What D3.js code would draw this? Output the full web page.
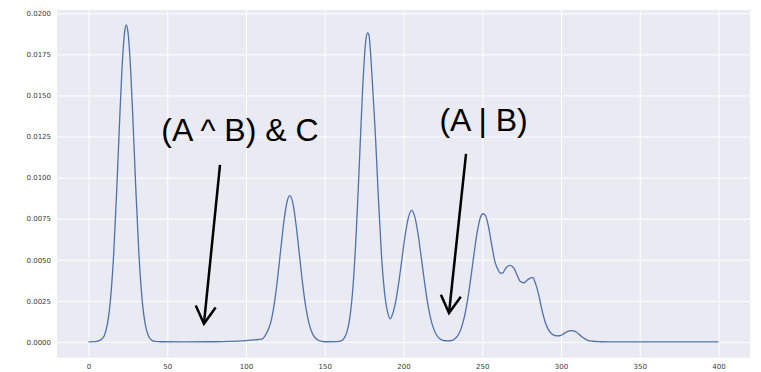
<!DOCTYPE html>
<html>
<head>
<meta charset="utf-8">
<script src="https://cdn.jsdelivr.net/npm/d3@7"></script>
<style>
  body { margin: 0; background: #fff; }
  svg { display: block; }
</style>
</head>
<body>
<script>
// density curve
let xs = [0, 4, 6, 8, 10, 12, 14, 16, 18, 20, 22, 23, 24, 25, 26, 28, 30, 32, 34, 36, 38, 40, 42, 46, 60, 80, 90, 95,
  100, 105, 110, 112, 114, 116, 118, 120, 122, 124, 126, 127.8, 130, 132, 134, 136, 138, 140, 142, 144, 146, 148, 152, 158,
  160, 162, 164, 166, 168, 170, 172, 174, 176, 177.2, 178, 180, 182, 184, 186, 188, 190, 191.5, 193, 195, 197, 199,
  201, 203, 205.2, 207, 209, 211, 213, 215, 217, 219, 221, 223, 225, 228, 231, 233, 235, 237, 239, 241, 243, 245, 247, 249,
  250.4, 252, 254, 256, 258, 260, 261.5, 263, 265, 267.5, 270, 272, 274, 276.5, 279, 282, 284, 286, 288, 290, 292, 294, 296, 297.5,
  300, 302, 304, 306.5, 309, 311, 313, 315, 317, 320, 325, 330, 400];
let ys = [0, 0.00002, 0.00005, 0.00015, 0.00038, 0.00108, 0.00262, 0.00537, 0.0094, 0.0140, 0.0178, 0.0189, 0.0193, 0.0189, 0.0178, 0.0140, 0.0094, 0.00537, 0.00262, 0.00108, 0.00038, 0.00012, 0.00004, 0.00001, 0, 0.00001, 0.00003, 0.00005,
  0.00008, 0.00012, 0.00017, 0.00036, 0.00072, 0.0013, 0.00235, 0.00383, 0.00558, 0.00728, 0.0085, 0.0089, 0.00833, 0.00697, 0.00522, 0.0035, 0.0021, 0.00113, 0.00054, 0.00024, 0.0001, 0.00004, 0.00001, 0.00002,
  0.00005, 0.00019, 0.00058, 0.00152, 0.00345, 0.00665, 0.0109, 0.0153, 0.0183, 0.0188, 0.0187, 0.0162, 0.0129, 0.0089, 0.0053, 0.00298, 0.00178, 0.0014, 0.00168, 0.00244, 0.00362, 0.00505,
  0.00647, 0.00752, 0.0080, 0.00767, 0.00672, 0.00535, 0.00389, 0.00256, 0.00153, 0.00084, 0.00042, 0.00019, 0.0001, 0.00007, 0.0001, 0.00022, 0.00047, 0.00093, 0.00168, 0.00274, 0.00408, 0.00552, 0.0068, 0.00762,
  0.0078, 0.0077, 0.0070, 0.0059, 0.0049, 0.0044, 0.00418, 0.0042, 0.0045, 0.00466, 0.0045, 0.0041, 0.0037, 0.0036, 0.0038, 0.00393, 0.0035, 0.0028, 0.0019, 0.0012, 0.00075, 0.0005, 0.0004, 0.00037,
  0.0004, 0.00052, 0.00063, 0.00069, 0.00064, 0.0005, 0.00033, 0.0002, 0.0001, 0.00004, 0.00001, 0, 0];

let xTicks = [0, 50, 100, 150, 200, 250, 300, 350, 400];
let yTicks = [0, 0.0025, 0.005, 0.0075, 0.01, 0.0125, 0.015, 0.0175, 0.02];

// annotations: label, text position, arrow tail, arrow tip (data coords)
let labels = ["(A ^ B) & C", "(A | B)"];
let labelPos = [[46.2, 0.01224], [222.8, 0.01284]];
let arrowFrom = [[83.5, 0.01078], [239.7, 0.01145]];
let arrowTo = [[73.3, 0.00111], [228.9, 0.00176]];

let w = 761, h = 372;
let mLeft = 57, mRight = 750, mTop = 10, mBottom = 357.7;

let svg = d3.select("body").append("svg").attr("width", w).attr("height", h);

let x = d3.scaleLinear().domain([-20, 420]).range([mLeft, mRight]);
let y = d3.scaleLinear().domain([-0.00096, 0.0202]).range([mBottom, mTop]);

svg.append("rect")
  .attr("x", mLeft).attr("y", mTop)
  .attr("width", mRight - mLeft).attr("height", mBottom - mTop)
  .attr("fill", "#eaeaf2");

// grid
svg.append("g")
  .attr("transform", "translate(0," + mBottom + ")")
  .call(d3.axisBottom(x).tickValues(xTicks).tickSize(-(mBottom - mTop)).tickFormat(d3.format("d")).tickPadding(6))
  .call(g => g.select(".domain").remove())
  .call(g => g.selectAll("line").attr("stroke", "#fff").attr("stroke-width", 1))
  .call(g => g.selectAll("text").attr("fill", "#3a3a3a").attr("font-size", 7).attr("font-family", "DejaVu Sans"));

svg.append("g")
  .attr("transform", "translate(" + mLeft + ",0)")
  .call(d3.axisLeft(y).tickValues(yTicks).tickSize(-(mRight - mLeft)).tickFormat(d3.format(".4f")).tickPadding(6))
  .call(g => g.select(".domain").remove())
  .call(g => g.selectAll("line").attr("stroke", "#fff").attr("stroke-width", 1))
  .call(g => g.selectAll("text").attr("fill", "#3a3a3a").attr("font-size", 7).attr("font-family", "DejaVu Sans"));

let pts = xs.map((v, i) => [v, ys[i]]);
let line = d3.line()
  .x(d => x(d[0]))
  .y(d => y(d[1]))
  .curve(d3.curveMonotoneX);

svg.append("path")
  .datum(pts)
  .attr("d", line)
  .attr("fill", "none")
  .attr("stroke", "#4c72b0")
  .attr("stroke-width", 1.3);

// annotations
for (let i = 0; i < labels.length; i++) {
  svg.append("text")
    .attr("x", x(labelPos[i][0]))
    .attr("y", y(labelPos[i][1]))
    .attr("font-family", "Liberation Sans, Arial, sans-serif")
    .attr("font-size", 32)
    .attr("fill", "#000")
    .text(labels[i]);

  let x0 = x(arrowFrom[i][0]), y0 = y(arrowFrom[i][1]);
  let x1 = x(arrowTo[i][0]), y1 = y(arrowTo[i][1]);
  svg.append("line")
    .attr("x1", x0).attr("y1", y0).attr("x2", x1).attr("y2", y1)
    .attr("stroke", "#000").attr("stroke-width", 2.5);

  let len = Math.hypot(x0 - x1, y0 - y1);
  let ux = (x0 - x1) / len, uy = (y0 - y1) / len;
  let a = Math.PI / 6, hl = 20;
  let w1 = [x1 + hl * (ux * Math.cos(a) - uy * Math.sin(a)), y1 + hl * (ux * Math.sin(a) + uy * Math.cos(a))];
  let w2 = [x1 + hl * (ux * Math.cos(a) + uy * Math.sin(a)), y1 + hl * (-ux * Math.sin(a) + uy * Math.cos(a))];
  svg.append("path")
    .attr("d", "M" + w1 + "L" + [x1, y1] + "L" + w2)
    .attr("fill", "none")
    .attr("stroke", "#000")
    .attr("stroke-width", 2.5)
    .attr("stroke-linejoin", "miter");
}
</script>
</body>
</html>
